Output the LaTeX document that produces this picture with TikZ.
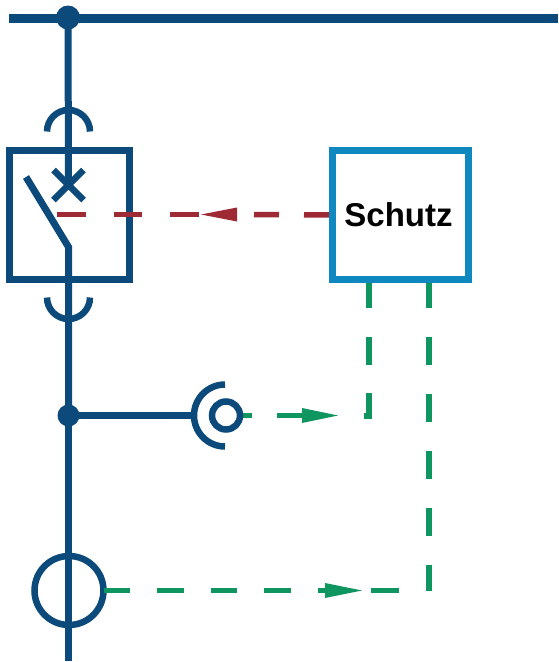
\documentclass[tikz,border=0pt]{standalone}
\usepackage{fontspec}
\setmainfont{Liberation Sans}
\definecolor{navy}{HTML}{0B4A7A}
\definecolor{skyb}{HTML}{0F87BF}
\definecolor{grn}{HTML}{0E9560}
\definecolor{rd}{HTML}{9E2A36}
\tikzset{
  busline/.style={draw=navy,line width=7pt},
  symline/.style={draw=navy,line width=6.5pt},
  dot/.style={circle,fill=navy,inner sep=0pt,outer sep=0pt,minimum size=#1},
  ringnode/.style={circle,draw=navy,line width=6.5pt,fill=white,inner sep=0pt,outer sep=0pt,minimum size=#1},
  boxnode/.style={rectangle,line width=7pt,inner sep=0pt,outer sep=0pt},
  sig/.style={line width=5.5pt},
}
\begin{document}
\begin{tikzpicture}[x=1pt,y=-1pt]
\useasboundingbox[fill=white] (0,0) rectangle (558,662);
% named points
\coordinate (busL) at (9,18);
\coordinate (busR) at (558,18);
\coordinate (cross) at (68.5,185);
\coordinate (joint) at (68.5,247);
\coordinate (swtip) at (26,177);
\coordinate (lineend) at (68.5,661);
\coordinate (arcend) at (194,415.5);
\coordinate (rdA) at (57,214.5);
\coordinate (rdB) at (199,214.5);
\coordinate (rdC) at (254,214.5);
\coordinate (v1) at (369,280);
\coordinate (v1c) at (369,416);
\coordinate (v1e) at (363,416);
\coordinate (v2) at (429,280);
\coordinate (v2c) at (429,590.5);
\coordinate (h2a) at (399,590.5);
\coordinate (h2b) at (371,590.5);
\coordinate (h1e) at (302,415.5);
\coordinate (h3e) at (325,590.5);
% green signals first
\draw[sig,grn,dash pattern=on 28pt off 28.5pt] (v1) -- (v1c) -- (v1e);
\draw[sig,grn,dash pattern=on 28pt off 29pt] (v2) -- (v2c);
\draw[sig,grn] (h2a) -- (h2b);
% main lines
\draw[busline,line width=9pt] (busL) -- (busR);
\node[dot=24pt] (busdot) at (68,17.5) {};
\node[dot=22pt] (tdot) at (68.5,415.5) {};
\draw[busline] (busdot.center) -- (cross);
\draw[busline] (tdot.center) -- (lineend);
\draw[busline] (tdot.center) -- (arcend);
\draw[busline,miter limit=10] (swtip) -- (joint) -- (tdot.center);
% breaker
\node[boxnode,draw=navy,minimum width=119.5pt,minimum height=129pt] (brk) at (69.25,215) {};
\draw[symline] (53.5,170) -- (83.5,200);
\draw[symline] (83.5,170) -- (53.5,200);
\draw[symline] (47,131.5) arc[start angle=180,end angle=0,radius=21.5pt];
\draw[symline] (47,297.5) arc[start angle=180,end angle=360,radius=21.5pt];
% protection box
\node[boxnode,draw=skyb,minimum width=136pt,minimum height=129pt,font=\bfseries\fontsize{33}{33}\selectfont] (schutz) at (400.5,215) {\hspace*{-4pt}Schutz};
% red signal
\draw[sig,rd,dash pattern=on 28.5pt off 28pt] (rdA) -- (rdB);
\draw[sig,rd,dash pattern=on 25pt off 25pt] (rdC) -- (schutz.west);
\fill[rd] (201,214.5) -- (237,207.5) -- (237,221.5) -- cycle;
% voltage transformer
\draw[sig,grn,dash pattern=on 26pt off 25pt on 25pt off 100pt] (226,415.5) -- (h1e);
\node[ringnode=28pt] (ring) at (226,415.5) {};
\fill[grn] (302,408) -- (338,415.5) -- (302,423) -- cycle;
\draw[symline] (225,384.5) arc[start angle=90,end angle=270,radius=31pt];
% current transformer
\node[ringnode=69pt,fill=none] (ct) at (69,590.5) {};
\draw[sig,grn,dash pattern=on 26.5pt off 27pt] (ct.east) -- (h3e);
\fill[grn] (325,583) -- (362,590.5) -- (325,598) -- cycle;
\end{tikzpicture}
\end{document}
